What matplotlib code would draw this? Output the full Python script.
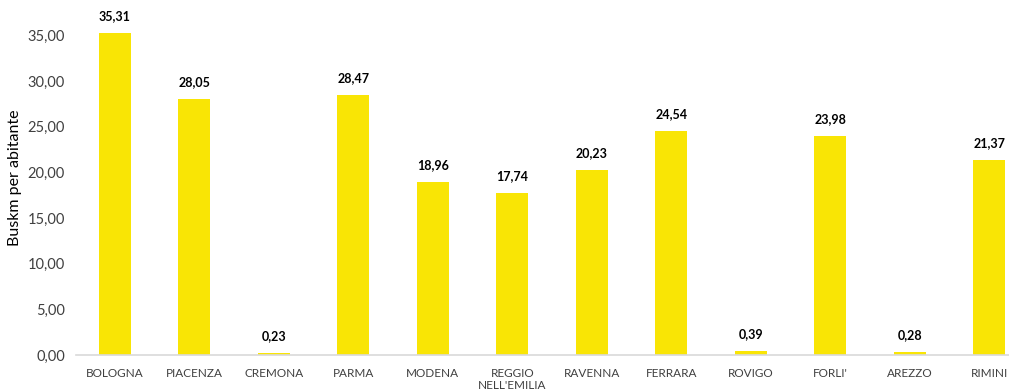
import matplotlib.pyplot as plt
from matplotlib.ticker import FuncFormatter

cities = ["BOLOGNA", "PIACENZA", "CREMONA", "PARMA", "MODENA", "REGGIO\nNELL'EMILIA",
          "RAVENNA", "FERRARA", "ROVIGO", "FORLI'", "AREZZO", "RIMINI"]
buskm = [35.31, 28.05, 0.23, 28.47, 18.96, 17.74, 20.23, 24.54, 0.39, 23.98, 0.28, 21.37]
y_ticks = [0, 5, 10, 15, 20, 25, 30, 35]

plt.rcParams['font.family'] = ['Lato', 'DejaVu Sans']

fig = plt.figure(figsize=(10.09, 3.91), dpi=100)
ax = fig.add_axes([0.0753, 0.092, 0.9247, 0.908])

x = list(range(len(cities)))
ax.bar(x, buskm, width=0.4, color="#F9E505")

# value labels above bars
for xi, v in zip(x, buskm):
    ax.text(xi, v + 1.2, f"{v:.2f}".replace(".", ","), ha="center", va="bottom",
            fontsize=9, fontweight="bold", color="black")

ax.set_xlim(-0.49, 11.25)
ax.set_ylim(0, 38.9)
ax.set_yticks(y_ticks)
ax.yaxis.set_major_formatter(FuncFormatter(lambda v, p: f"{v:.2f}".replace(".", ",")))
ax.set_xticks(x)
ax.set_xticklabels(cities, fontsize=8.5, color="#404040", linespacing=1.2)
ax.tick_params(axis="y", labelsize=10.5, colors="#404040", length=0, pad=8)
ax.tick_params(axis="x", length=0, pad=9)
ax.set_ylabel("Buskm per abitante", fontsize=11.5, color="black", labelpad=4)

for s in ["top", "right", "left"]:
    ax.spines[s].set_visible(False)
ax.spines["bottom"].set_color("#D9D9D9")
ax.spines["bottom"].set_linewidth(1.2)

fig.savefig("out.png", dpi=100)
